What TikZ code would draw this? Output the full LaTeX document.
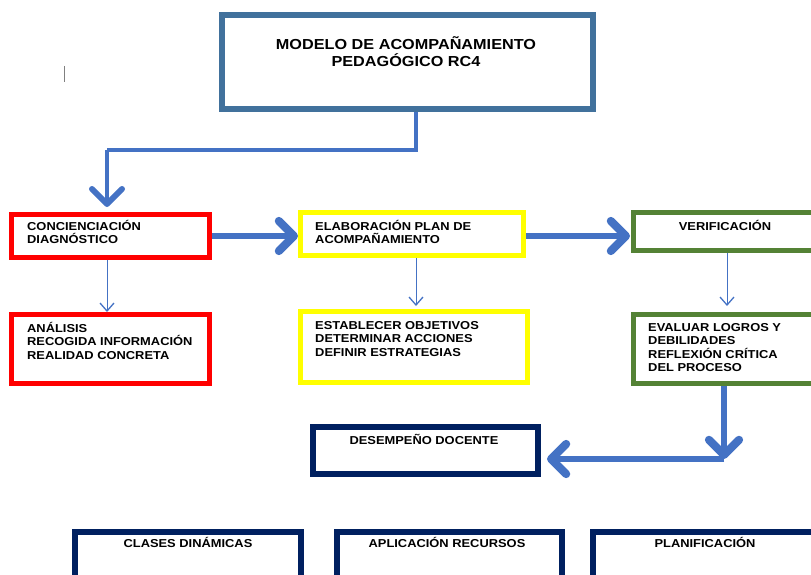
\documentclass[tikz,border=0pt]{standalone}
\usepackage{fontspec}
\setmainfont[FakeStretch=1.12]{Liberation Sans}
\usetikzlibrary{arrows.meta}
\definecolor{titleblue}{HTML}{41719C}
\definecolor{arrowblue}{HTML}{4472C4}
\definecolor{boxred}{HTML}{FF0000}
\definecolor{boxyellow}{HTML}{FFFF00}
\definecolor{boxgreen}{HTML}{548235}
\definecolor{navy}{HTML}{002060}
\newcommand{\firstln}{\rule{0pt}{11pt}}
\begin{document}
\begin{tikzpicture}[x=1pt,y=-1pt,
  box/.style={draw, line width=5pt, inner sep=0pt, fill=white},
  nbox/.style={draw=navy, line width=6pt, inner sep=0pt, fill=white},
  txt/.style={font=\bfseries\fontsize{11.5}{13.5}\selectfont, align=left, anchor=north west, inner sep=0pt},
  ctxt/.style={font=\bfseries\fontsize{11.5}{13.5}\selectfont, align=center, anchor=north, inner sep=0pt},
  bigarrow/.style={draw=arrowblue, line width=5.5pt, -{Straight Barb[length=15pt,width=30pt,round,line width=0pt 1.5]}},
  thinarrow/.style={draw=arrowblue, line width=1pt, -{Straight Barb[length=8pt,width=14pt,line width=0pt 1.3]}},
  linkline/.style={draw=arrowblue, line width=3.5pt}
]
\useasboundingbox (0,0) rectangle (811,575);
\clip (0,0) rectangle (811,575);

% text cursor mark
\draw[gray, line width=1.3pt] (64.5,66) -- (64.5,82);

% title
\node[draw=titleblue, line width=6pt, inner sep=0pt, minimum width=371pt, minimum height=94pt] (title) at (407.5,62.5) {};
\node[font=\bfseries\fontsize{14.5}{17}\selectfont, align=center, anchor=north, inner sep=0pt] (titletxt) at (406,35) {\rule{0pt}{14pt}MODELO DE ACOMPAÑAMIENTO\\PEDAGÓGICO RC4};

% row 1
\node[box, draw=boxred, minimum width=198pt, minimum height=43pt] (c1) at (110.5,236) {};
\node[txt] (c1t) at (27,219) {\firstln CONCIENCIACIÓN\\DIAGNÓSTICO};
\node[box, draw=boxyellow, minimum width=223pt, minimum height=43pt] (e1) at (412,234) {};
\node[txt] (e1t) at (315,219) {\firstln ELABORACIÓN PLAN DE\\ACOMPAÑAMIENTO};
\node[box, draw=boxgreen, minimum width=210pt, minimum height=38pt] (v1) at (738.5,231.5) {};
\node[ctxt] (v1t) at (725,219) {\firstln VERIFICACIÓN};

% row 2
\node[box, draw=boxred, minimum width=198pt, minimum height=69pt] (c2) at (110.5,349) {};
\node[txt] (c2t) at (27,321) {\firstln ANÁLISIS\\RECOGIDA INFORMACIÓN\\REALIDAD CONCRETA};
\node[box, draw=boxyellow, minimum width=227pt, minimum height=71pt] (e2) at (413.5,347) {};
\node[txt] (e2t) at (315,318) {\firstln ESTABLECER OBJETIVOS\\DETERMINAR ACCIONES\\DEFINIR ESTRATEGIAS};
\node[box, draw=boxgreen, minimum width=210pt, minimum height=69pt] (v2) at (738.5,349) {};
\node[txt] (v2t) at (648,320) {\firstln EVALUAR LOGROS Y\\DEBILIDADES\\REFLEXIÓN CRÍTICA\\DEL PROCESO};

% desempeño
\node[nbox, minimum width=225pt, minimum height=47pt] (dd) at (425.5,450.5) {};
\node[ctxt] (ddt) at (424,433) {\firstln DESEMPEÑO DOCENTE};

% bottom row
\node[nbox, minimum width=226pt, minimum height=80pt] (b1) at (188,572) {};
\node[ctxt] (b1t) at (188,536) {\firstln CLASES DINÁMICAS};
\node[nbox, minimum width=225pt, minimum height=80pt] (b2) at (449.5,572) {};
\node[ctxt] (b2t) at (447,536) {\firstln APLICACIÓN RECURSOS};
\node[nbox, minimum width=257pt, minimum height=80pt] (b3) at (721.5,572) {};
\node[ctxt] (b3t) at (705,536) {\firstln PLANIFICACIÓN};

% connectors
\coordinate (k1) at (416,150);
\coordinate (k2) at (107,150);
\draw[linkline] (title.south -| k1) -- (k1) -- (k2);
\draw[bigarrow, line width=4pt] (k2) -- (107,207);

\draw[bigarrow] (c1.east) -- (297,236 -| e1.west);
\draw[bigarrow] (e1.east |- 0,236) -- (630,236);

\draw[thinarrow] (c1.south -| 107,0) -- (107,312);
\draw[thinarrow] (e1.south -| 416,0) -- (416,306);
\draw[thinarrow] (v1.south -| 727,0) -- (727,306);

\coordinate (k3) at (724,459);
\draw[bigarrow] (v2.south -| k3) -- (k3);
\draw[bigarrow] (k3) -- (547,459);
\end{tikzpicture}
\end{document}
